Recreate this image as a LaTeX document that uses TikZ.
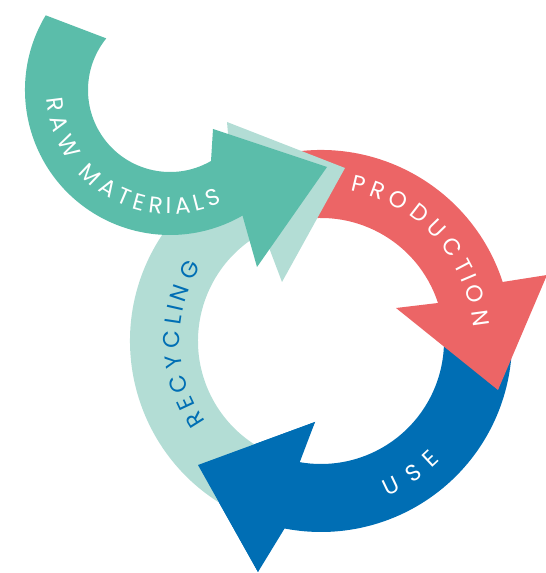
\documentclass[tikz,border=0pt]{standalone}
\usepackage{fontspec}
\setmainfont{Poppins}
\usetikzlibrary{decorations.text}
\definecolor{rawteal}{RGB}{91,189,170}
\definecolor{recyc}{RGB}{179,221,213}
\definecolor{prodred}{RGB}{236,101,102}
\definecolor{useblue}{RGB}{0,110,180}
\tikzset{
  x=1pt, y=1pt,
  curved label/.style 2 args={font=\fontsize{23}{23}\selectfont, text=#2,
    decorate, decoration={text effects along path,
    text={#1}, text effects/.cd, text along path, fit text to path,
    characters={text=#2, inner sep=0pt}}},
}

\begin{document}
\begin{tikzpicture}
	\useasboundingbox (0,0) rectangle (546,573);
	% centres
	\coordinate (cyc) at (321,232);
	\coordinate (raw) at (170,483);

	% use
	\fill[useblue] ([shift={(8:191)}]cyc) arc[start angle=8, end angle=-101, radius=191]
		-- (258,1) -- (198,108) -- (315,151)
		-- ([shift={(-101:123)}]cyc) arc[start angle=-101, end angle=8, radius=123] -- cycle;
	% production
	\fill[prodred] ([shift={(105:191)}]cyc) arc[start angle=105, end angle=18, radius=191]
		-- (547,298) -- (498,183) -- (396,265)
		-- ([shift={(18:123)}]cyc) arc[start angle=18, end angle=105, radius=123] -- cycle;
	% recycling
	\fill[recyc] ([shift={(240:191)}]cyc) arc[start angle=240, end angle=118, radius=191]
		-- (227,451) -- (345,405) -- (282,291)
		-- ([shift={(118:123)}]cyc) arc[start angle=118, end angle=240, radius=123] -- cycle;
	\fill[useblue] (258,1) -- (198,108) -- (315,151) -- cycle;
	% raw materials
	\fill[rawteal] ([shift={(149:145)}]raw) arc[start angle=149, end angle=300, radius=145]
		-- (257,306) -- (327,406) -- (213,444)
		-- ([shift={(300:82)}]raw) arc[start angle=300, end angle=141, radius=82] -- cycle;

	% labels
	\path[curved label={RAW MATERIALS}{white}] ([shift={(184:124)}]raw) arc[start angle=184, end angle=295, radius=124];
	\path[curved label={PRODUCTION}{white}] ([shift={(79:153)}]cyc) arc[start angle=79, end angle=5, radius=153];
	\path[curved label={RECYCLING}{useblue}] ([shift={(215:141)}]cyc) arc[start angle=215, end angle=148, radius=141];
	\path[curved label={USE}{white}] ([shift={(293:169)}]cyc) arc[start angle=293, end angle=315, radius=169];
\end{tikzpicture}
\end{document}
